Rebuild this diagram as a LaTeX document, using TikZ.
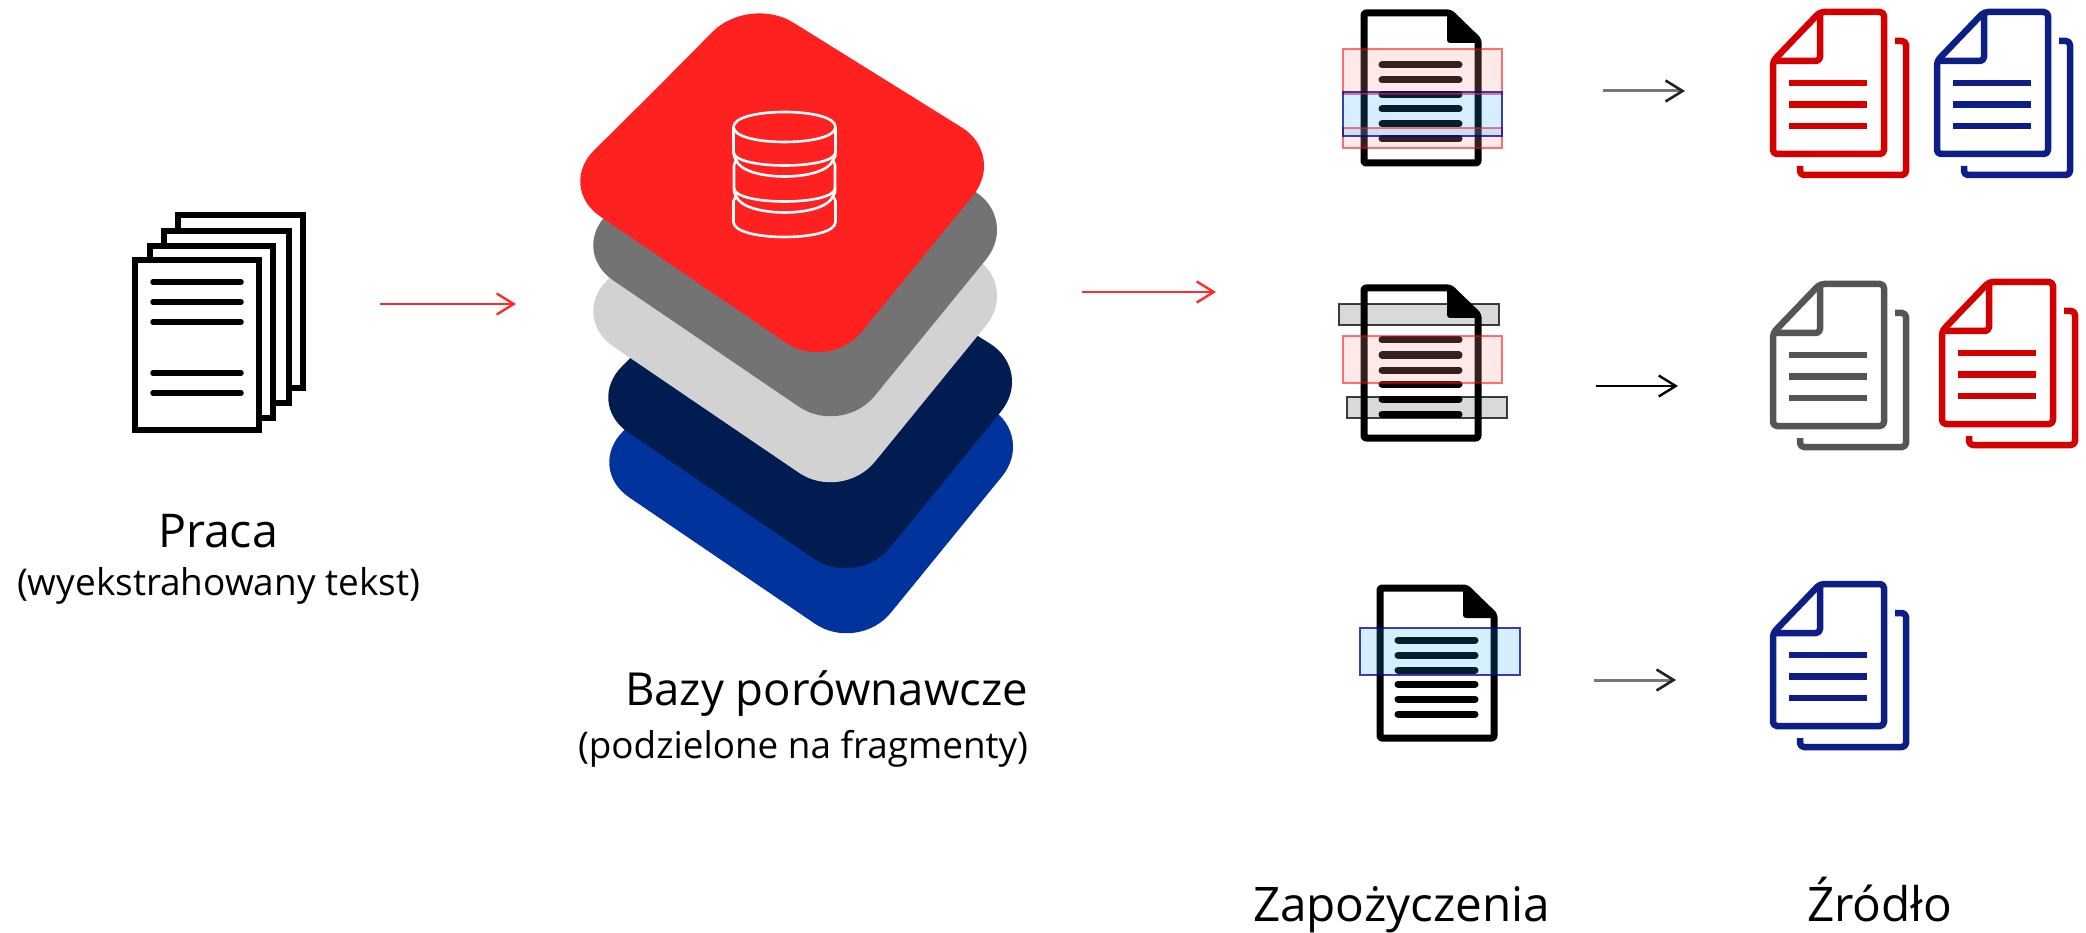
\documentclass[tikz,border=0pt]{standalone}
\usepackage{fontspec}
\usetikzlibrary{arrows.meta}
\setmainfont{Open Sans}
\definecolor{cRed}{HTML}{FF2020}
\definecolor{cGray}{HTML}{737373}
\definecolor{cLight}{HTML}{D2D2D2}
\definecolor{cNavy}{HTML}{001C50}
\definecolor{cBlue}{HTML}{00339C}
\definecolor{docRed}{HTML}{D40000}
\definecolor{docBlue}{HTML}{0D1F86}
\definecolor{docGray}{HTML}{555555}
\definecolor{hlRed}{HTML}{FC9898}
\definecolor{hlBlue}{HTML}{1CA7FF}
\definecolor{arrowRed}{HTML}{FF2A2A}
\definecolor{shaftGray}{HTML}{777777}
\definecolor{tipDark}{HTML}{222222}
\newcommand{\fitw}[2]{\resizebox{#1pt}{!}{#2}}
\newcommand{\stacklayer}[3]{\fill[#3,shift={(#1,#2)},rounded corners=52pt]
  (654,91) -- (749,-5) -- (1006,155) -- (829,372) -- (557,187) -- cycle;}
\newcommand{\blackdoc}[2]{\begin{scope}[shift={(#1,#2)}]
  \draw[docline] (1364,13) -- (1450,13) -- (1478,40) -- (1478,163) -- (1364,163) -- cycle;
  \filldraw[docfold] (1450,13) -- (1478,40) -- (1450,40) -- cycle;
  \foreach \yy in {65,80,95,109,124,139}{\draw[docrow] (1382,\yy) -- (1459,\yy);}
\end{scope}}
\newcommand{\srcdoc}[3]{\begin{scope}[shift={(#1,#2)},draw=#3,srcline]
  \draw (1850,12) -- (1884,12) -- (1884,154) -- (1773,154) -- (1773,61) -- (1820,12) -- cycle;
  \draw (1820,12) -- (1820,61) -- (1773,61);
  \draw[rounded corners=0pt] (1789,83) -- (1867,83);
  \draw[rounded corners=0pt] (1789,104.5) -- (1867,104.5);
  \draw[rounded corners=0pt] (1789,126) -- (1867,126);
  \draw (1895,41) -- (1906,41) -- (1906,175) -- (1800,175) -- (1800,166);
\end{scope}}
\tikzset{
  docline/.style={draw=black,line width=7pt,line join=round,rounded corners=2pt},
  docfold/.style={fill=black,draw=black,line width=6pt,line join=round},
  docrow/.style={draw=black,line width=7pt,line cap=round},
  srcline/.style={line width=6.5pt,line join=round,rounded corners=4pt},
  paperline/.style={draw=black,fill=white,line width=6.5pt,line join=miter},
  paperrow/.style={draw=black,line width=5.5pt,line cap=round},
  hlred/.style={draw=red,draw opacity=.55,fill=hlRed,fill opacity=.21,line width=2pt},
  hlblue/.style={draw=blue!60!black,draw opacity=.75,fill=hlBlue,fill opacity=.18,line width=2pt},
  hlgray/.style={draw=black,draw opacity=.75,fill=black,fill opacity=.15,line width=2pt},
  flow/.style={line width=2.2pt,-{Straight Barb[length=17pt,width=21pt,line width=2.4pt]}},
  flowsoft/.style={shaftGray,line width=3pt,-{Straight Barb[length=17pt,width=21pt,line width=2.6pt,color=tipDark]}},
  label/.style={anchor=base west,inner sep=0pt,outer sep=0pt,text=black},
  dbline/.style={draw=white,line width=2.6pt,line join=round},
}
\begin{document}
\begin{tikzpicture}[x=1pt,y=-1pt]
\useasboundingbox (0,0) rectangle (2086,933);

% stack of pages
\draw[paperline] (178,215) rectangle (303,388);
\draw[paperline] (164,231) rectangle (289,403);
\draw[paperline] (150,246) rectangle (273,418);
\draw[paperline] (135,260) rectangle (259,430);
\foreach \yy in {282,302,322,373,393}{\draw[paperrow] (153,\yy) -- (241,\yy);}

% database layers
\stacklayer{29}{281}{cBlue}
\stacklayer{28}{216}{cNavy}
\stacklayer{13}{130}{cLight}
\stacklayer{13}{64}{cGray}
\stacklayer{0}{0}{cRed}

% database icon
\draw[dbline] (733.5,127) .. controls (733.5,107) and (835.5,107) .. (835.5,127)
  .. controls (835.5,147) and (733.5,147) .. (733.5,127) -- cycle;
\draw[dbline] (733.5,127) -- (733.5,152) .. controls (733.5,170) and (835.5,170) .. (835.5,152) -- (835.5,127);
\draw[dbline] (733.5,152) .. controls (733,155) and (735,158) .. (736,160) -- (734,165) -- (734,188)
  .. controls (734,206) and (835,206) .. (835,188) -- (835,165) -- (833,160) .. controls (835,158) and (836,155) .. (835.5,152);
\draw[dbline] (736,160) .. controls (744,182) and (825,182) .. (833,160);
\draw[dbline] (734,188) .. controls (733,191) and (735,194) .. (736,196) -- (733.5,201) -- (733.5,222)
  .. controls (733.5,242) and (835.5,242) .. (835.5,222) -- (835.5,201) -- (833,196) .. controls (835,194) and (836,191) .. (835,188);
\draw[dbline] (736,196) .. controls (744,218) and (825,218) .. (833,196);

% target documents with highlighted fragments
\blackdoc{0}{0}
\draw[hlred] (1343,49) rectangle (1502,94);
\draw[hlred] (1343,128) rectangle (1502,148);
\draw[hlblue] (1343,92) rectangle (1502,136);

\blackdoc{0}{275}
\draw[hlgray] (1339,304) rectangle (1499,325);
\draw[hlred] (1343,336) rectangle (1502,383);
\draw[hlgray] (1347,397) rectangle (1507,418);

\blackdoc{16}{575}
\draw[hlblue] (1360,628) rectangle (1520,675);

% source documents
\srcdoc{0}{0}{docRed}
\srcdoc{164}{0}{docBlue}
\srcdoc{0}{272}{docGray}
\srcdoc{169}{270}{docRed}
\srcdoc{0}{572}{docBlue}

% connectors
\coordinate (a1s) at (380,304); \coordinate (a1e) at (516,304);
\coordinate (a2s) at (1082,292); \coordinate (a2e) at (1216,292);
\coordinate (r1s) at (1603,91); \coordinate (r1e) at (1685,91);
\coordinate (r2s) at (1596,386); \coordinate (r2e) at (1678,386);
\coordinate (r3s) at (1594,680); \coordinate (r3e) at (1676,680);
\draw[flow,arrowRed] (a1s) -- (a1e);
\draw[flow,arrowRed] (a2s) -- (a2e);
\draw[flowsoft] (r1s) -- (r1e);
\draw[flow,black] (r2s) -- (r2e);
\draw[flowsoft] (r3s) -- (r3e);

% labels
\node[label] (praca) at (158,547) {\fitw{120}{Praca}};
\node[label] (pracasub) at (17,595) {\fitw{403}{(wyekstrahowany tekst)}};
\node[label] (bazy) at (625,705) {\fitw{403}{Bazy porównawcze}};
\node[label] (bazysub) at (578,758) {\fitw{450}{(podzielone na fragmenty)}};
\node[label] (zapo) at (1253,921) {\fitw{297}{Zapożyczenia}};
\node[label] (zrodlo) at (1807,921) {\fitw{145}{Źródło}};
\end{tikzpicture}
\end{document}
